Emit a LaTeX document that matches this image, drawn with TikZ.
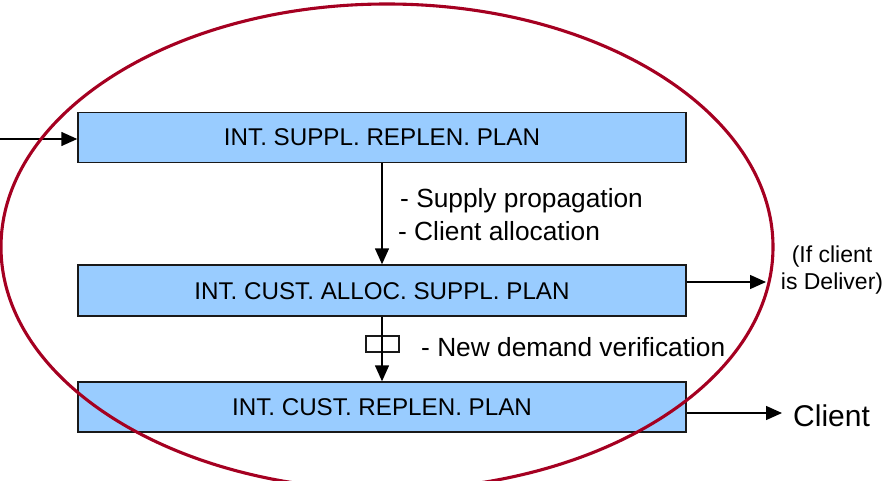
\documentclass[tikz,border=0pt]{standalone}
\usepackage{fontspec}
\setmainfont{Liberation Sans}
\usetikzlibrary{arrows.meta}
\definecolor{boxblue}{HTML}{99CCFF}
\definecolor{ringred}{HTML}{A50021}
\tikzset{
  planbox/.style={draw=black!90, line width=1.4pt, fill=boxblue, minimum width=608pt, minimum height=50pt, inner sep=0pt},
  boxtext/.style={font=\fontsize{24.2}{26}\selectfont, inner sep=0pt},
  labeltext/.style={font=\fontsize{26.3}{28}\selectfont, inner sep=0pt, anchor=base west},
  flow/.style={line width=1.4pt, -{Triangle[length=16pt,width=14pt]}},
  ring/.style={draw=ringred, line width=3.1pt}
}
\begin{document}
\begin{tikzpicture}[x=1pt,y=-1pt]
\useasboundingbox (0,0) rectangle (882,481);
% boxes
\node[planbox] (b1) at (382,137.5) {};
\node[boxtext, anchor=base] (t1) at (382,146) {INT. SUPPL. REPLEN. PLAN};
\node[planbox, minimum height=51pt] (b2) at (382,290.5) {};
\node[boxtext, anchor=base] (t2) at (382,299) {INT. CUST. ALLOC. SUPPL. PLAN};
\node[planbox] (b3) at (382,407) {};
\node[boxtext, anchor=base] (t3) at (382,415.5) {INT. CUST. REPLEN. PLAN};
% input
\coordinate (in) at (0,139);
\draw[flow] (in) -- (in -| b1.west);
% b1 -> b2
\coordinate (c12) at (382,0);
\draw[flow] (c12 |- b1.south) -- (c12 |- b2.north);
\node[labeltext] (l1) at (400,207) {- Supply propagation};
\node[labeltext] (l2) at (398,240) {- Client allocation};
% b2 -> b3 with gate
\node[draw=black!90, line width=1.4pt, minimum width=33pt, minimum height=16pt, inner sep=0pt] (gate) at (382.5,344) {};
\draw[flow] (c12 |- b2.south) -- (c12 |- b3.north);
\node[labeltext] (l3) at (421,356) {- New demand verification};
% outputs
\coordinate (o1) at (766,282);
\draw[flow] (o1 -| b2.east) -- (o1);
\node[font=\fontsize{23}{27}\selectfont, align=center, inner sep=0pt, anchor=base] (d1) at (832,289) {(If client\\is Deliver)};
\coordinate (o2) at (782,413);
\draw[flow] (o2 -| b3.east) -- (o2);
\node[font=\fontsize{30}{32}\selectfont, inner sep=0pt, anchor=base west] (cl) at (793,426) {Client};
% ring
\draw[ring] (387,247) ellipse [x radius=386, y radius=243];
\end{tikzpicture}
\end{document}
